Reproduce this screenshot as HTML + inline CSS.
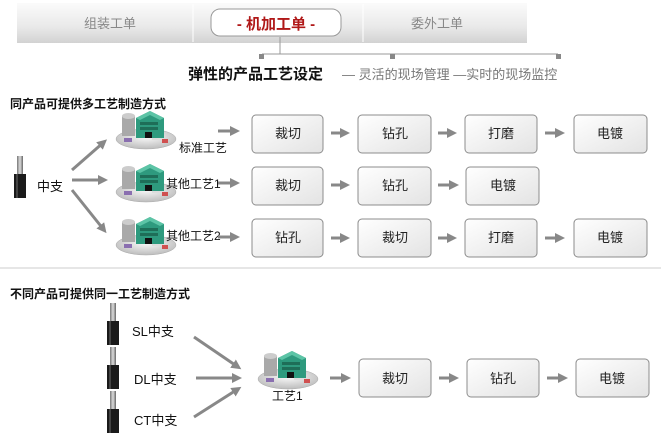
<!DOCTYPE html>
<html><head><meta charset="utf-8"><style>
html,body{margin:0;padding:0;background:#fff;}
svg{display:block;font-family:"Liberation Sans","Noto Sans CJK SC",sans-serif;}
</style></head><body>
<svg width="661" height="440" viewBox="0 0 661 440" xmlns="http://www.w3.org/2000/svg">
<defs>
<linearGradient id="bar" x1="0" y1="0" x2="0" y2="1"><stop offset="0" stop-color="#fbfbfb"/><stop offset="0.6" stop-color="#e9e9e9"/><stop offset="1" stop-color="#d2d2d2"/></linearGradient>
<linearGradient id="box" x1="0" y1="0" x2="1" y2="1"><stop offset="0" stop-color="#ffffff"/><stop offset="1" stop-color="#e3e3e3"/></linearGradient>
<linearGradient id="cyl" x1="0" y1="0" x2="1" y2="0"><stop offset="0" stop-color="#777"/><stop offset="0.5" stop-color="#ddd"/><stop offset="1" stop-color="#666"/></linearGradient>
<radialGradient id="base" cx="0.5" cy="0.4" r="0.6"><stop offset="0" stop-color="#fafafa"/><stop offset="1" stop-color="#bdbdbd"/></radialGradient>
<symbol id="fac" viewBox="0 0 64 42" width="64" height="42">
<ellipse cx="32" cy="31" rx="30" ry="10" fill="url(#base)" stroke="#aaa" stroke-width="0.5"/>
<rect x="8" y="8" width="13" height="20" fill="#a9a9a9"/><ellipse cx="14.5" cy="8" rx="6.5" ry="3" fill="#ccc"/>
<polygon points="22,10 36,3 50,10 50,30 22,30" fill="#2e9a7e"/>
<polygon points="22,10 36,3 50,10 46,12 36,7 26,12" fill="#5cc4a6"/>
<rect x="26" y="14" width="18" height="3" fill="#1e6e58"/><rect x="26" y="19" width="18" height="3" fill="#1e6e58"/>
<rect x="31" y="24" width="7" height="6" fill="#111"/>
<rect x="10" y="30" width="8" height="4" fill="#8a6fb0"/><rect x="48" y="31" width="6" height="4" fill="#d05050"/>
<rect x="38" y="30" width="10" height="2" fill="#ddd"/>
</symbol>
<symbol id="cmp" viewBox="0 0 12 42" width="12" height="42">
<rect x="3" y="0" width="6" height="20" fill="url(#cyl)"/>
<rect x="0" y="18" width="12" height="24" fill="#1a1a1a"/>
<rect x="2" y="18" width="2" height="24" fill="#444"/>
</symbol>
<marker id="ah" markerWidth="10" markerHeight="10" refX="6" refY="5" orient="auto" markerUnits="userSpaceOnUse"><path d="M0,0 L10,5 L0,10 z" fill="#888"/></marker>
</defs>
<rect x="17" y="3" width="510" height="40" fill="url(#bar)"/>
<line x1="193" y1="4" x2="193" y2="42" stroke="#fff" stroke-width="1"/>
<line x1="363" y1="4" x2="363" y2="42" stroke="#fff" stroke-width="1"/>
<rect x="211" y="9" width="130" height="27" rx="9" fill="#fff" stroke="#999"/>
<text x="110" y="28" font-size="13" fill="#888" text-anchor="middle">组装工单</text>
<text x="276" y="29" font-size="15" fill="#b01818" text-anchor="middle" font-weight="bold">-  机加工单  -</text>
<text x="437" y="28" font-size="13" fill="#888" text-anchor="middle">委外工单</text>
<line x1="280" y1="37" x2="280" y2="54" stroke="#999"/>
<line x1="262" y1="54" x2="558" y2="54" stroke="#999"/>
<rect x="259" y="54" width="5" height="5" fill="#888"/><rect x="390" y="54" width="5" height="5" fill="#888"/><rect x="556" y="54" width="5" height="5" fill="#888"/>
<text x="188" y="79" font-size="15" font-weight="bold" fill="#111">弹性的产品工艺设定</text>
<text x="342" y="79" font-size="13" fill="#777">— 灵活的现场管理 —实时的现场监控</text>
<text x="10" y="108" font-size="12" font-weight="bold" fill="#111">同产品可提供多工艺制造方式</text>
<use href="#cmp" x="14" y="156"/>
<text x="37" y="191" font-size="13" fill="#111">中支</text>
<g stroke="#888" stroke-width="3" fill="none" marker-end="url(#ah)">
<line x1="72" y1="170" x2="104" y2="142"/>
<line x1="72" y1="180" x2="104" y2="180"/>
<line x1="72" y1="190" x2="104" y2="230"/>
</g>
<use href="#fac" x="114" y="108"/>
<use href="#fac" x="114" y="161"/>
<use href="#fac" x="114" y="214"/>
<text x="179" y="152" font-size="12" fill="#111">标准工艺</text>
<text x="166" y="188" font-size="12" fill="#111">其他工艺1</text>
<text x="166" y="240" font-size="12" fill="#111">其他工艺2</text>
<g stroke="#888" stroke-width="3" fill="none" marker-end="url(#ah)">
<line x1="218" y1="131" x2="236" y2="131"/>
<line x1="218" y1="183" x2="236" y2="183"/>
<line x1="218" y1="237" x2="236" y2="237"/>
<line x1="331" y1="133" x2="346" y2="133"/><line x1="438" y1="133" x2="453" y2="133"/><line x1="545" y1="133" x2="561" y2="133"/>
<line x1="331" y1="185" x2="346" y2="185"/><line x1="438" y1="185" x2="455" y2="185"/>
<line x1="331" y1="238" x2="346" y2="238"/><line x1="438" y1="238" x2="453" y2="238"/><line x1="545" y1="238" x2="561" y2="238"/>
</g>
<g stroke="#8c8c8c" fill="url(#box)">
<rect x="252" y="115" width="71" height="38" rx="4"/><rect x="358" y="115" width="73" height="38" rx="4"/><rect x="465" y="115" width="72" height="38" rx="4"/><rect x="574" y="115" width="73" height="38" rx="4"/>
<rect x="252" y="167" width="71" height="38" rx="4"/><rect x="358" y="167" width="73" height="38" rx="4"/><rect x="466" y="167" width="73" height="38" rx="4"/>
<rect x="252" y="219" width="71" height="38" rx="4"/><rect x="358" y="219" width="73" height="38" rx="4"/><rect x="465" y="219" width="72" height="38" rx="4"/><rect x="574" y="219" width="73" height="38" rx="4"/>
</g>
<g font-size="13" fill="#222" text-anchor="middle">
<text x="288" y="138">裁切</text><text x="395" y="138">钻孔</text><text x="501" y="138">打磨</text><text x="610" y="138">电镀</text>
<text x="288" y="190">裁切</text><text x="395" y="190">钻孔</text><text x="503" y="190">电镀</text>
<text x="288" y="242">钻孔</text><text x="395" y="242">裁切</text><text x="501" y="242">打磨</text><text x="610" y="242">电镀</text>
</g>
<line x1="0" y1="268" x2="661" y2="268" stroke="#ccc"/>
<text x="10" y="298" font-size="12" font-weight="bold" fill="#111">不同产品可提供同一工艺制造方式</text>
<use href="#cmp" x="107" y="303"/><use href="#cmp" x="107" y="347"/><use href="#cmp" x="107" y="391"/>
<text x="132" y="336" font-size="13" fill="#111">SL中支</text>
<text x="134" y="384" font-size="13" fill="#111">DL中支</text>
<text x="134" y="425" font-size="13" fill="#111">CT中支</text>
<g stroke="#888" stroke-width="3" fill="none" marker-end="url(#ah)">
<line x1="194" y1="337" x2="238" y2="367"/>
<line x1="196" y1="378" x2="238" y2="378"/>
<line x1="194" y1="417" x2="238" y2="389"/>
<line x1="330" y1="378" x2="347" y2="378"/><line x1="439" y1="378" x2="455" y2="378"/><line x1="547" y1="378" x2="564" y2="378"/>
</g>
<use href="#fac" x="256" y="348"/>
<text x="272" y="400" font-size="12" fill="#111">工艺1</text>
<g stroke="#8c8c8c" fill="url(#box)">
<rect x="359" y="359" width="72" height="38" rx="4"/><rect x="467" y="359" width="72" height="38" rx="4"/><rect x="576" y="359" width="73" height="38" rx="4"/>
</g>
<g font-size="13" fill="#222" text-anchor="middle">
<text x="395" y="383">裁切</text><text x="503" y="383">钻孔</text><text x="612" y="383">电镀</text>
</g>
</svg>
</body></html>
